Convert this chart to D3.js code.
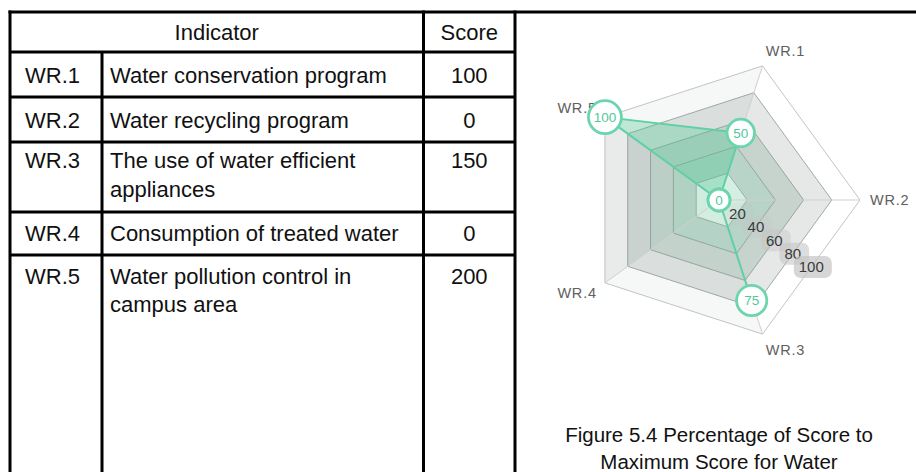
<!DOCTYPE html>
<html><head><meta charset="utf-8">
<script src="https://cdn.jsdelivr.net/npm/d3@7"></script>
<style>body{margin:0;background:#fff;} svg{display:block}</style>
</head><body>
<svg id="c" width="916" height="472"></svg>
<script>
// ---- data ----
const indicatorCodes = ["WR.1", "WR.2", "WR.3", "WR.4", "WR.5"];
const indicatorNames = [
  ["Water conservation program"],
  ["Water recycling program"],
  ["The use of water efficient", "appliances"],
  ["Consumption of treated water"],
  ["Water pollution control in", "campus area"]
];
const scores = [100, 0, 150, 0, 200];
const percentValues = [50, 0, 75, 0, 100];
const radialTicks = [20, 40, 60, 80, 100];
const headerLabels = ["Indicator", "Score"];
const captionLines = ["Figure 5.4 Percentage of Score to", "Maximum Score for Water"];

// ---- layout ----
const FONT = "'Liberation Sans', Arial, Helvetica, sans-serif";
const svg = d3.select("#c");

const colX = [10, 102, 423.5, 515];
const rightEdge = 930;
const rowY = [12, 52, 97, 142, 212, 255];
const tableBottom = 500;
const baseOff = [28, 31, 30.7, 26.3, 28.7, 28.5];
const lineH = 28.3;
const BW = 3;

const tg = svg.append("g");
tg.append("line").attr("x1", colX[0] - BW/2).attr("x2", rightEdge).attr("y1", rowY[0]).attr("y2", rowY[0])
  .attr("stroke", "#000").attr("stroke-width", BW);
rowY.slice(1).forEach(y => {
  tg.append("line").attr("x1", colX[0]).attr("x2", colX[3]).attr("y1", y).attr("y2", y)
    .attr("stroke", "#000").attr("stroke-width", BW);
});
[[colX[0], rowY[0]], [colX[1], rowY[1]], [colX[2], rowY[0]], [colX[3], rowY[0]]].forEach(([x, y0]) => {
  tg.append("line").attr("x1", x).attr("x2", x).attr("y1", y0 - (y0 === rowY[0] ? BW/2 : 0)).attr("y2", tableBottom)
    .attr("stroke", "#000").attr("stroke-width", BW);
});

const txt = (x, y, s, anchor, size, fill) => tg.append("text").attr("x", x).attr("y", y)
  .attr("text-anchor", anchor || "start").attr("font-family", FONT).attr("font-size", size || 22)
  .attr("fill", fill || "#111").text(s);

txt((colX[0] + colX[2]) / 2, rowY[0] + baseOff[0], headerLabels[0], "middle");
txt((colX[2] + colX[3]) / 2, rowY[0] + baseOff[0], headerLabels[1], "middle");

indicatorCodes.forEach((code, i) => {
  const b = rowY[i + 1] + baseOff[i + 1];
  txt(25, b, code);
  indicatorNames[i].forEach((ln, j) => txt(110, b + j * lineH, ln));
  txt((colX[2] + colX[3]) / 2, b, String(scores[i]), "middle");
});

captionLines.forEach((ln, j) => txt(719, 441.5 + j * 27, ln, "middle", 20.5, "#111"));

// ---- radar ----
const cx = 719, cy = 200, R = 141;
const n = indicatorCodes.length;
const rScale = d3.scaleLinear().domain([0, 100]).range([0, R]);
const aScale = d3.scaleLinear().domain([0, n]).range([-72, 288]);
const rad = d => d * Math.PI / 180;
const pt = (i, v) => {
  const a = rad(aScale(i % n));
  return [cx + rScale(v) * Math.cos(a), cy + rScale(v) * Math.sin(a)];
};
const pentagon = v => indicatorCodes.map((_, i) => pt(i, v));
const closed = d3.line().curve(d3.curveLinearClosed);

const rg = svg.append("g");
const defs = svg.append("defs");
defs.append("filter").attr("id", "blur").append("feGaussianBlur").attr("stdDeviation", 2);

// band colours keyed by outer level: lit (right) side and shaded (left) side
const litColor = {20: "#d5eee3", 40: "#b8d4c8", 60: "#c7d4ce", 80: "#e6e8e7", 100: "#ffffff"};
const shadeColor = {20: "#d0ebdf", 40: "#afd2c2", 60: "#bccfc6", 80: "#c9d2ce", 100: "#e9eaea"};
const sideMix = [0, 0, 0.4, 1, 0.4];   // edges WR1-2, WR2-3, WR3-4, WR4-5, WR5-1
const levelsAll = [0].concat(radialTicks);
for (let b = levelsAll.length - 1; b >= 1; b--) {
  const hi = levelsAll[b], lo = levelsAll[b - 1];
  for (let j = 0; j < n; j++) {
    const poly = [pt(j, hi), pt(j + 1, hi), pt(j + 1, lo), pt(j, lo)];
    const col = d3.interpolateRgb(litColor[hi], shadeColor[hi])(sideMix[j]);
    rg.append("path").attr("d", closed(poly)).attr("fill", col).attr("stroke", col).attr("stroke-width", 0.5);
  }
}
rg.append("path").attr("d", closed(pentagon(9))).attr("fill", "#e6f5ef").attr("filter", "url(#blur)");

// ring lines
radialTicks.forEach(lv => {
  rg.append("path").attr("d", closed(pentagon(lv))).attr("fill", "none")
    .attr("stroke", lv === 100 ? "#c4c4c4" : "#86968f").attr("stroke-opacity", lv === 100 ? 1 : 0.75)
    .attr("stroke-width", 1);
});
// axis lines
indicatorCodes.forEach((_, i) => {
  const [x, y] = pt(i, 100);
  rg.append("line").attr("x1", cx).attr("y1", cy).attr("x2", x).attr("y2", y)
    .attr("stroke", "#cfcfcf").attr("stroke-width", 1);
});

// axis names
indicatorCodes.forEach((code, i) => {
  const a = rad(aScale(i));
  const c = Math.cos(a), s = Math.sin(a);
  const x = cx + (R + 10) * c, y = cy + (R + 16) * s;
  rg.append("text").attr("x", x).attr("y", y).attr("dy", "0.36em")
    .attr("text-anchor", c > 0.1 ? "start" : c < -0.1 ? "end" : "middle")
    .attr("font-family", FONT).attr("font-size", 14.5).attr("letter-spacing", 0.8)
    .attr("fill", "#606060").text(code);
});

// data polygon
const dataPts = percentValues.map((v, i) => pt(i, v));
rg.append("path").attr("d", closed(dataPts))
  .attr("fill", "rgb(70,200,145)").attr("fill-opacity", 0.32)
  .attr("stroke", "#5fcfa5").attr("stroke-width", 2).attr("stroke-linejoin", "round");

// tick labels
const tickAng = rad(36);
radialTicks.forEach((t, k) => {
  const d = rScale(t) * Math.cos(rad(36));
  const x = cx + d * Math.cos(tickAng), y = cy + d * Math.sin(tickAng);
  const g = rg.append("g");
  const rect = g.append("rect");
  const tx = g.append("text").attr("x", x).attr("y", y).attr("dy", "0.36em").attr("text-anchor", "middle")
    .attr("font-family", FONT).attr("font-size", 15).attr("fill", "#3a3a3a").text(String(t));
  const bb = tx.node().getBBox();
  rect.attr("x", bb.x - 5).attr("y", y - 11).attr("width", bb.width + 13).attr("height", 22).attr("rx", 7)
    .attr("fill", "#c4c4c4").attr("fill-opacity", 0.18 + 0.13 * k);
});

// points
const sizeScale = d3.scaleLinear().domain([0, 100]).range([11, 16.5]);
percentValues.forEach((v, i) => {
  const [x, y] = dataPts[i];
  rg.append("circle").attr("cx", x).attr("cy", y).attr("r", sizeScale(v))
    .attr("fill", "#fff").attr("stroke", "#6dd5ae").attr("stroke-width", 2.8);
  rg.append("text").attr("x", x).attr("y", y).attr("dy", "0.36em").attr("text-anchor", "middle")
    .attr("font-family", FONT).attr("font-size", 13.5).attr("fill", "#55c79c").text(String(v));
});
</script>
</body></html>
